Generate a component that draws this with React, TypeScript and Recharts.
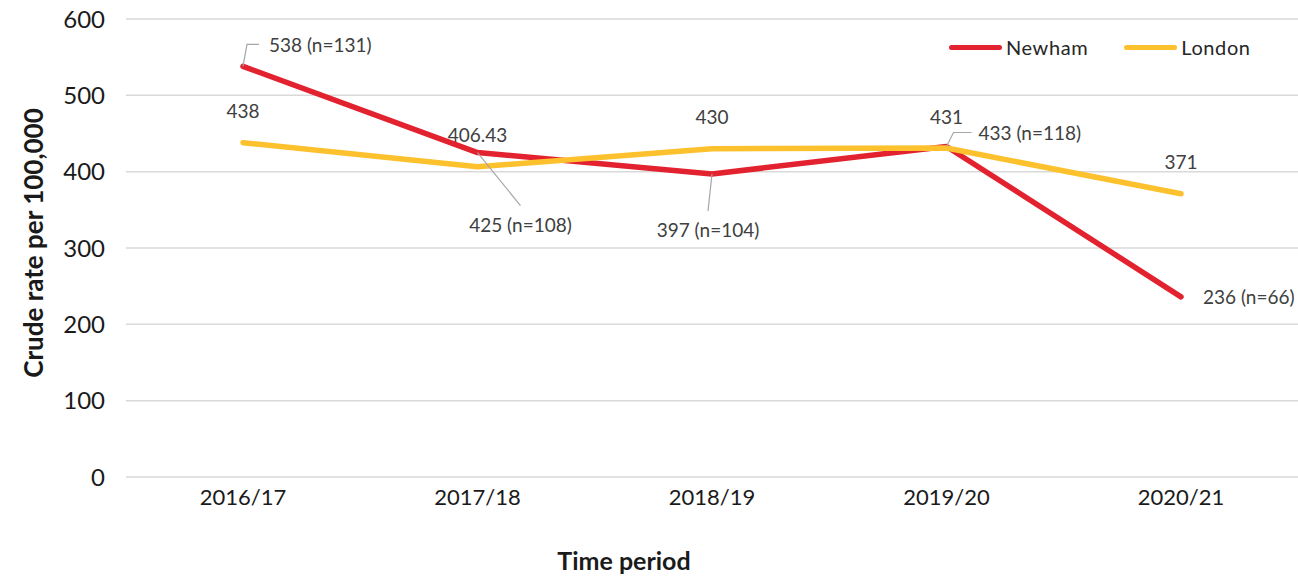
import React from "react";
import { LineChart, Line, XAxis, YAxis, CartesianGrid, LabelList } from "recharts";

const periods = ["2016/17", "2017/18", "2018/19", "2019/20", "2020/21"];
const newham = [538, 425, 397, 433, 236];
const newhamN = [131, 108, 104, 118, 66];
const london = [438, 406.43, 430, 431, 371];
const yTicks = [0, 100, 200, 300, 400, 500, 600];

const data = periods.map((p, i) => ({ period: p, Newham: newham[i], London: london[i], n: newhamN[i] }));

const FONT = "Lato, 'Open Sans', sans-serif";
const RED = "#E3222F";
const YELLOW = "#FCC12D";
const LABEL_COLOR = "#404040";

// label placement styling for Newham labels (offsets relative to the point)
const newhamLabelStyle = [
  { leader: [[4, -22], [16, -22]], tx: 26, ty: -22, anchor: "start" },
  { leader: [[43, 53]], tx: 43, ty: 72, anchor: "middle" },
  { leader: [[-4, 37]], tx: -4, ty: 56, anchor: "middle" },
  { leader: [[7, -14], [25, -14]], tx: 32, ty: -14, anchor: "start" },
  { leader: [], tx: 22, ty: 0, anchor: "start" },
];

const NewhamLabel = (props: any) => {
  const { x, y, index, value } = props;
  const s = newhamLabelStyle[index];
  const pts = [[x, y], ...s.leader.map((d: number[]) => [x + d[0], y + d[1]])];
  return (
    <g>
      {s.leader.length > 0 && (
        <polyline points={pts.map((p) => p.join(",")).join(" ")} fill="none" stroke="#a6a6a6" strokeWidth={1.2} />
      )}
      <text x={x + s.tx} y={y + s.ty} textAnchor={s.anchor} dominantBaseline="central" fontSize={19} fontFamily={FONT} fill={LABEL_COLOR}>
        {`${value} (n=${newhamN[index]})`}
      </text>
    </g>
  );
};

const LondonLabel = (props: any) => {
  const { x, y, value } = props;
  return (
    <text x={x} y={y - 32} textAnchor="middle" dominantBaseline="central" fontSize={19} fontFamily={FONT} fill={LABEL_COLOR}>
      {value}
    </text>
  );
};

const series = [
  { name: "Newham", color: RED },
  { name: "London", color: YELLOW },
];

export default function App() {
  return (
    <div style={{ position: "absolute", left: 0, top: 0, width: 1298, height: 576, background: "#fff" }}>
      <LineChart width={1298} height={576} data={data} margin={{ top: 19, right: 0, left: 0, bottom: 0 }}>
        <CartesianGrid vertical={false} stroke="#d9d9d9" strokeWidth={1.5} />
        <XAxis
          dataKey="period"
          height={99}
          padding={{ left: 117, right: 117 }}
          axisLine={false}
          tickLine={false}
          tickSize={0}
          tickMargin={12}
          tick={{ fontSize: 22, fontFamily: FONT, fill: "#1a1a1a" }}
          interval={0}
          label={(p: any) => {
            const vb = p.viewBox || {};
            return (
              <text x={vb.x + vb.width / 2 - 88} y={vb.y + 83} textAnchor="middle" dominantBaseline="central" fontSize={25} fontWeight={700} fontFamily={FONT} fill="#1a1a1a">
                Time period
              </text>
            );
          }}
        />
        <YAxis
          width={126}
          domain={[0, 600]}
          ticks={yTicks}
          axisLine={false}
          tickLine={false}
          tickSize={0}
          tickMargin={21}
          tick={{ fontSize: 24, fontFamily: FONT, fill: "#1a1a1a" }}
          label={(p: any) => {
            const vb = p.viewBox || {};
            const cx = vb.x + 33;
            const cy = vb.y + vb.height / 2 - 5;
            return (
              <text x={cx} y={cy} transform={`rotate(-90 ${cx} ${cy})`} textAnchor="middle" dominantBaseline="central" fontSize={26} fontWeight={700} fontFamily={FONT} fill="#1a1a1a">
                Crude rate per 100,000
              </text>
            );
          }}
        />
        <Line dataKey="Newham" stroke={RED} strokeWidth={5.5} strokeLinecap="round" strokeLinejoin="round" dot={false} activeDot={false} isAnimationActive={false}>
          <LabelList dataKey="Newham" content={<NewhamLabel />} />
        </Line>
        <Line dataKey="London" stroke={YELLOW} strokeWidth={5.5} strokeLinecap="round" strokeLinejoin="round" dot={false} activeDot={false} isAnimationActive={false}>
          <LabelList dataKey="London" content={<LondonLabel />} />
        </Line>
      </LineChart>
      <div style={{ position: "absolute", left: 949, top: 35, display: "flex", alignItems: "center", fontFamily: FONT, fontSize: 20, color: "#262626", letterSpacing: 0.6 }}>
        {series.map((s, i) => (
          <React.Fragment key={s.name}>
            <span style={{ display: "inline-block", width: 53, height: 5, borderRadius: 3, background: s.color }} />
            <span style={{ marginLeft: 4, marginRight: i === 0 ? 36 : 0 }}>{s.name}</span>
          </React.Fragment>
        ))}
      </div>
    </div>
  );
}
